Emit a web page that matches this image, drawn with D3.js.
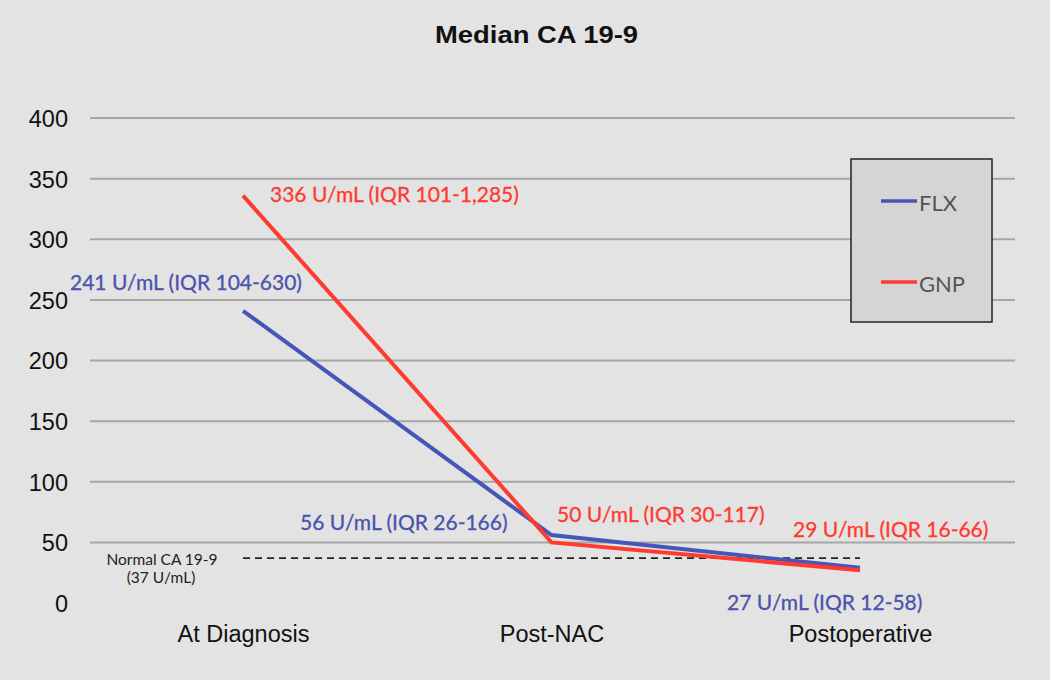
<!DOCTYPE html>
<html><head><meta charset="utf-8">
<script src="https://cdn.jsdelivr.net/npm/d3@7"></script>
<style>body{margin:0;background:#e3e3e3;} svg{display:block;}</style>
</head><body>
<svg id="c" width="1050" height="680"></svg>
<script>
const categories = ["At Diagnosis", "Post-NAC", "Postoperative"];
const flxValues = [241, 56, 29];
const gnpValues = [336, 50, 27];
const flxLabels = ["241 U/mL (IQR 104-630)", "56 U/mL (IQR 26-166)", "27 U/mL (IQR 12-58)"];
const gnpLabels = ["336 U/mL (IQR 101-1,285)", "50 U/mL (IQR 30-117)", "29 U/mL (IQR 16-66)"];
const yTicks = [0, 50, 100, 150, 200, 250, 300, 350, 400];
const normalValue = 37;

const svg = d3.select("#c");
const W = 1050, H = 680;
svg.append("rect").attr("width", W).attr("height", H).attr("fill", "#e3e3e3");

const x = d3.scalePoint().domain(categories).range([243, 860]);
const y = d3.scaleLinear().domain([0, 400]).range([603, 118]);

const BLUE = "#4655b8", RED = "#ff3b2f";
const BLUE_T = "#4a53ad", RED_T = "#ff3a30";
const sans = "Liberation Sans, Arial, sans-serif";

// title
svg.append("text").attr("x", 435).attr("y", 43)
  .attr("font-family", sans).attr("font-weight", "bold")
  .attr("font-size", 24).attr("fill", "#111")
  .attr("textLength", 203).attr("lengthAdjust", "spacingAndGlyphs")
  .text("Median CA 19-9");

// gridlines
const grid = svg.append("g");
grid.selectAll("line").data(yTicks.filter(d => d > 0)).join("line")
  .attr("x1", 90).attr("x2", 1015)
  .attr("y1", d => y(d)).attr("y2", d => y(d))
  .attr("stroke", "#a6a6a6").attr("stroke-width", 2);

// y axis
const yAxis = d3.axisLeft(y).tickValues(yTicks).tickSize(0).tickPadding(0);
const yg = svg.append("g").attr("transform", "translate(68,0)").call(yAxis);
yg.select(".domain").remove();
yg.selectAll("text").attr("font-family", sans)
  .attr("font-size", 23.5).attr("fill", "#111").attr("dy", "0.36em");

// x axis
const xAxis = d3.axisBottom(x).tickSize(0).tickPadding(0);
const xg = svg.append("g").attr("transform", "translate(0,642)").call(xAxis);
xg.select(".domain").remove();
xg.selectAll("text").attr("font-family", sans)
  .attr("font-size", 23.5).attr("fill", "#111").attr("dy", "0");

// normal dashed line
svg.append("line").attr("x1", x(categories[0])).attr("x2", x(categories[2]))
  .attr("y1", y(normalValue)).attr("y2", y(normalValue))
  .attr("stroke", "#222").attr("stroke-width", 1.8).attr("stroke-dasharray", "7,5");
const nt = svg.append("text").attr("font-family", "Lato, sans-serif").attr("font-size", 15.5)
  .attr("fill", "#222").attr("text-anchor", "middle");
nt.append("tspan").attr("x", 162).attr("y", 565).text("Normal CA 19-9");
nt.append("tspan").attr("x", 161).attr("y", 583).text("(37 U/mL)");

// lines
const line = d3.line().x((d, i) => x(categories[i])).y(d => y(d));
svg.append("path").datum(flxValues).attr("d", line).attr("fill", "none")
  .attr("stroke", BLUE).attr("stroke-width", 4);
svg.append("path").datum(gnpValues).attr("d", line).attr("fill", "none")
  .attr("stroke", RED).attr("stroke-width", 4);

// annotations
const af = "Lato, sans-serif";
const ann = [
  {t: gnpLabels[0], c: RED_T, x: 270, y: 202},
  {t: flxLabels[0], c: BLUE_T, x: 70, y: 290},
  {t: flxLabels[1], c: BLUE_T, x: 300, y: 530},
  {t: gnpLabels[1], c: RED_T, x: 557, y: 522},
  {t: gnpLabels[2], c: RED_T, x: 793, y: 537},
  {t: flxLabels[2], c: BLUE_T, x: 727, y: 610}
];
svg.selectAll("text.ann").data(ann).join("text").attr("class", "ann")
  .attr("x", d => d.x).attr("y", d => d.y).attr("fill", d => d.c)
  .attr("font-family", af).attr("font-size", 21).attr("stroke", d => d.c)
  .attr("stroke-width", 0.3).text(d => d.t);

// legend
const lg = svg.append("g");
lg.append("rect").attr("x", 851).attr("y", 159).attr("width", 141).attr("height", 163)
  .attr("fill", "#d5d5d5").attr("stroke", "#222").attr("stroke-width", 1.5);
const legendItems = [{n: "FLX", c: BLUE, yy: 201}, {n: "GNP", c: RED, yy: 282}];
legendItems.forEach(it => {
  lg.append("line").attr("x1", 881).attr("x2", 917).attr("y1", it.yy).attr("y2", it.yy)
    .attr("stroke", it.c).attr("stroke-width", 3.5);
  lg.append("text").attr("x", 919).attr("y", it.yy + 10).attr("font-family", af)
    .attr("font-size", 22).attr("fill", "#555").text(it.n);
});
</script>
</body></html>
